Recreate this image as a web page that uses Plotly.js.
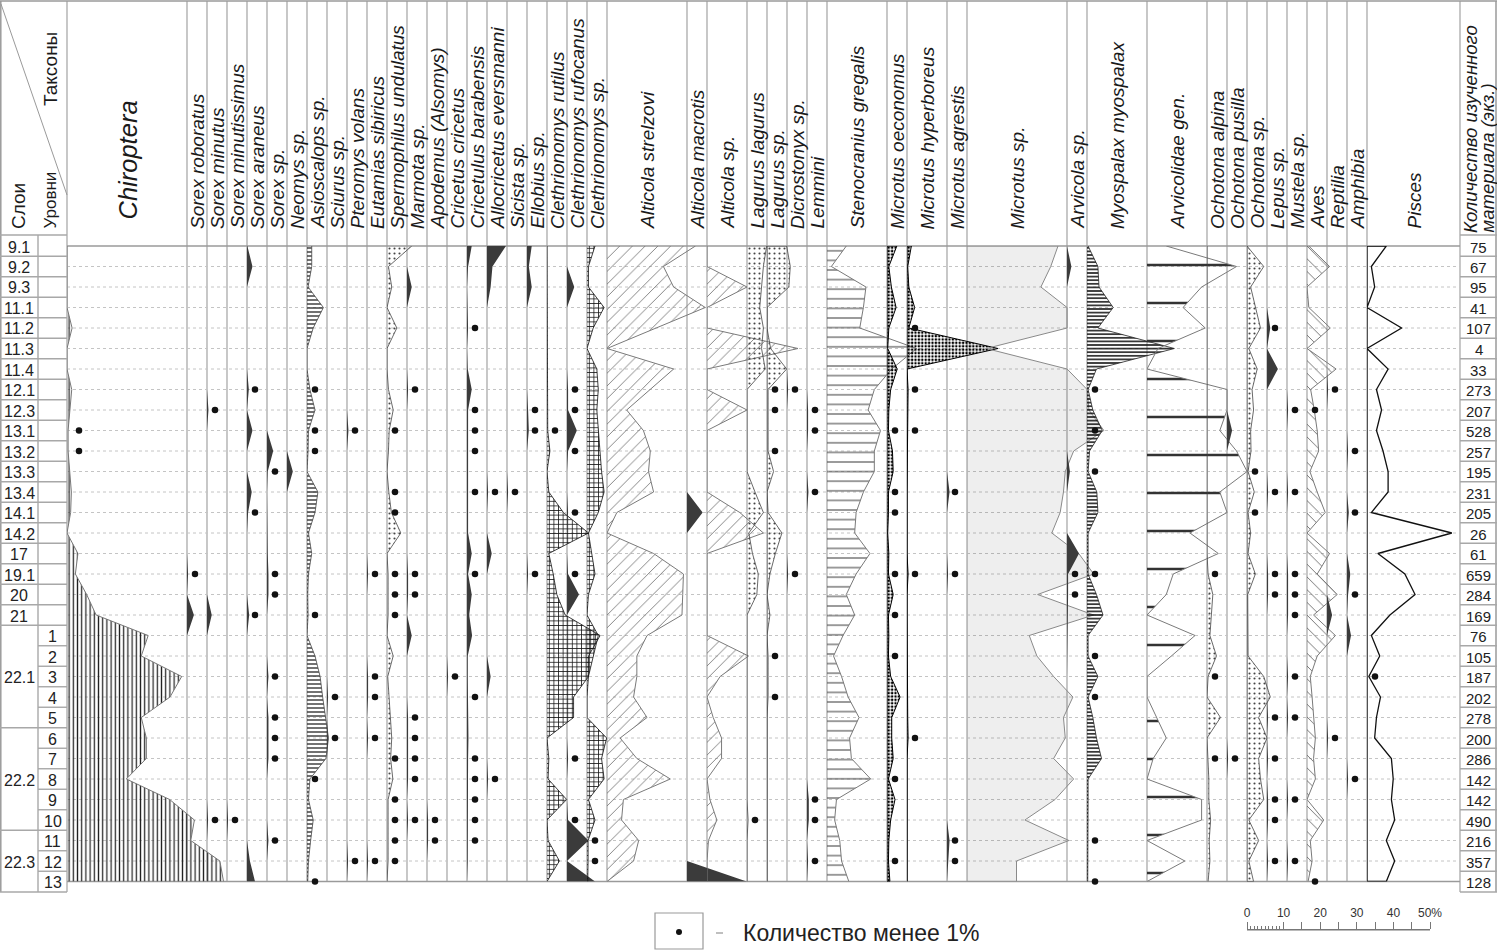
<!DOCTYPE html>
<html><head><meta charset="utf-8">
<script src="https://cdn.plot.ly/plotly-3.0.1.min.js"></script>
<style>html,body{margin:0;padding:0;background:#fff;}#chart{width:1497px;height:950px;}</style>
</head><body><div id="chart"></div>
<script>
// ---------------- DATA ----------------
const rowKeys = ['9.1','9.2','9.3','11.1','11.2','11.3','11.4','12.1','12.3','13.1','13.2','13.3','13.4','14.1','14.2','17','19.1','20','21',
                 '1','2','3','4','5','6','7','8','9','10','11','12','13'];
const layerNames = ['9.1','9.2','9.3','11.1','11.2','11.3','11.4','12.1','12.3','13.1','13.2','13.3','13.4','14.1','14.2','17','19.1','20','21','22.1','22.2','22.3'];
const layerRowCounts = [1,1,1,1,1,1,1,1,1,1,1,1,1,1,1,1,1,1,1,5,5,3];
const levelNames = ['','','','','','','','','','','','','','','','','','','','1','2','3','4','5','6','7','8','9','10','11','12','13'];
const specimenCounts = [75,67,95,41,107,4,33,273,207,528,257,195,231,205,26,61,659,284,169,76,105,187,202,278,200,286,142,142,490,216,357,128];

const chiroptera        = [0,0,0,0,1.4,0,0,1.3,0.8,0.3,0.3,0.8,1.2,1,0,3,2.3,5.4,8, 22.3,20.4,31.5,28.3,20.4,21.8,21.8,16.3,28.2,35,34,42,43];
const sorexRoboratus    = [0,0,0,0,0,0,0,0,0,0,0,0,0,0,0,0,0.3,0,1.9, 0,0,0,0,0,0,0,0,0,0,0,0,0];
const sorexMinutus      = [0,0,0,0,0,0,0,0,0.4,0,0,0,0,0,0,0,0,0,1.3, 0,0,0,0,0,0,0,0,0,0.3,0,0,0];
const sorexMinutissimus = [0,0,0,0,0,0,0,0,0,0,0,0,0,0,0,0,0,0,0, 0,0,0,0,0,0,0,0,0,0.3,0,0,0];
const sorexAraneus      = [0.1,1.5,0,0,0,0,0,0.5,0,1.5,0,0,1.3,0.3,0,0,0,0,0.6, 0,0,0,0,0,0,0,0,0,0,0,0.8,2.2];
const sorexSp           = [0,0,0,0,0,0,0,0,0,0,1.7,0.2,0,0,0,0.2,0.4,0.4,0, 0,0,0.4,0,0.4,0.4,0.4,0,0,0,0.4,0,0];
const neomys            = [0,0,0,0,0,0,0,0,0,0,0,1.6,0,0,0,0,0,0,0, 0,0,0,0,0,0,0,0,0,0,0,0,0];
const asioscalops       = [1.3,1.3,0.3,4.5,1.7,0,0,0.8,2.2,0.4,0.3,0,3,2.2,0.4,1.3,0.4,0.2,0.3, 0,2.2,3.6,4.3,5,5.9,5.2,0.8,0.4,1.7,1,0.4,0.2];
const sciurus           = [0,0,0,0,0,0,0,0,0,0,0,0,0,0,0,0,0,0,0, 0,0,0,0.3,0,0.3,0,0,0,0,0,0,0];
const pteromys          = [0,0,0,0,0,0,0,0,0,0.4,0,0,0,0,0,0,0,0,0, 0,0,0,0,0,0,0,0,0,0,0,0.3,0];
const eutamias          = [0,0,0,0,0,0,0,0,0,0,0,0,0,0,0,0,0.3,0,0, 0,0,0.3,0.3,0,0.3,0,0,0,0,0,0.3,0];
const spermophilus      = [6.8,0.4,1.3,0,2.7,0,0,0.4,1.7,0.6,0.4,0,0.5,1.2,3.8,0,0.3,0.3,0.3, 0,1.7,0.2,0.6,1,1.3,1,1.6,0.3,0.3,0.3,0.3,0];
const marmota           = [0,0,1.3,0,0,0,0,0.3,0,0,0,0,0,0,0,0,0.3,0.3,0, 1.3,0,0,0,0.3,0.3,0.3,0.3,0,0.3,0,0,0];
const apodemus          = [0,0,0,0,0,0,0,0,0,0,0,0,0,0,0,0,0,0,0, 0,0,0,0,0,0,0,0,0,0.3,0.3,0,0];
const cricetus          = [0,0,0,0,0,0,0,0,0,0,0,0,0,0,0,0,0,0,0, 0,0,0.3,0,0,0,0,0,0,0,0,0,0];
const cricetulus        = [1.3,0.3,0,0.2,0.3,0,0.2,1.3,0.3,0.3,0.3,0.3,0.3,0.3,0.3,1.3,0.3,1.3,0.6, 1.4,0.2,0.2,0.3,0.4,0.4,0.3,0.3,0.3,0.3,0.3,0.2,0];
const allocricetus      = [5.2,1.5,1,0,0,0,0,0,0,0,0,0,0.3,0,0,1.3,0,0,0, 0,0,1,0,0,0,0,0.3,0,0,0,0,0];
const sicista           = [0,0,0,0,0,0,0,0,0,0,0,0,0.3,0,0,0,0,0,0, 0,0,0,0,0,0,0,0,0,0,0,0,0];
const ellobius          = [1.3,0.5,1.3,0,0,0,0,0,0.3,0.5,0,0,0,0,0,0,0.3,0,0, 0,0,0,0,0,0,0,0,0,0,0,0,0];
const clRutilus         = [0,0,0,0,0,0,0,0,0,0.2,0.8,0,0.5,4.5,11.4,0.5,1.7,2.7,5, 14.6,11.4,11.4,7.3,7.3,0,0.5,0.3,5.4,0,0.3,3.4,0];
const clRufocanus       = [0,0,2,0,0,0,0,0.3,0.3,2.7,0.3,0,0,0.3,0,0,0.3,3.3,0, 0,0,0,0,0,0,0.3,0,0,0.3,5.9,0,7.7];
const clSp              = [2.2,0.4,0.4,4.7,1.7,0,2.7,3.1,2.7,3.1,3.6,4,4.7,3.1,0.4,1.3,2.2,0.4,0, 3.1,1.7,0.4,0,0,5.4,4,4.7,0.4,2.2,0.3,0.3,0.2];
const altStrelzovi      = [24.3,15.5,18.3,27,13.5,0,18.3,11.9,5.4,10,11.9,11.4,12.8,2.7,0,12.8,21,20.8,20.6, 11,8.2,8.2,7.3,11,3.6,8.2,17.4,4.5,4,8.7,7.3,0];
const altMacrotis       = [0,0,0,0,0,0,0,0,0,0,0,0,0,4.3,0,0,0,0,0, 0,0,0,0,0,0,0,0,0,0,0,0,16.4];
const altSp             = [0,0,11,0,0,25,0,0,11,0,0,0,0,9,15.5,0,0,0,0, 0,11.4,3.6,0,1.7,4,4,0,0.8,2.7,0.4,0,0];
const lagLagurus        = [5.4,4.5,4,3.5,4.5,4,5,0,0,0,0,0,2.2,4.5,0.5,1.5,3.1,2.7,0, 0,0,0,0,0,0,0,0,0,0.3,0,0,0];
const lagSp             = [5.4,6.4,6,0,0,1,5.4,0.3,0.3,0.5,0.3,1.8,0,0.3,4.1,2.3,0.8,0,0.8, 0,0.3,0.3,0.3,0,0,0,0,0,0,0,0,0];
const dicrostonyx       = [0,0,0,0,0,0,0,0.3,0,0,0,0,0,0,0,0,0.3,0,0, 0,0,0,0,0,0,0,0,0,0,0,0,0];
const lemmini           = [0,0,0,0,0,0,0,0,0.3,0.3,0,0,0.4,0,0,0,0,0,0, 0,0,0,0,0,0,0,0,0.5,0.5,0,0.3,0];
const stenocranius      = [5.3,1.2,10.7,10,9,24.6,17.8,13,11.3,14.7,13,13,10,8,7.6,11.8,8,5.3,7.6, 4.4,1.8,4,5.8,8.8,6.2,6.7,12,2.6,2.1,3.5,4,6];
const mOeconomus        = [2.7,0.5,1.2,2.5,0.5,0.2,2.8,1,0.5,0.4,1.5,1.7,0.4,0.4,0.2,0.5,0.4,1.7,0.4, 0.5,0.4,1,3.6,1.3,1.3,1.7,0.4,2.2,1,0.5,0.4,0.8];
const mHyperboreus      = [1.2,0.2,0.5,2.1,0.5,25,0,0.3,0.2,0.3,0,0,0,0,0,0,0.3,0,0, 0,0,0,0,0.2,0.3,0,0,0,0,0,0,0];
const mAgrestis         = [0,0,0,0,0,0,0,0,0,0,0,0,0.7,0,0,0,0.3,0,0, 0,0,0,0,0,0,0,0,0,0,0.7,0.3,0];
const microtusSp        = [25,23,20.3,27.5,27.5,5.3,27.5,33,33.5,37.6,29.3,27,26.5,25.6,23.3,30.7,34.8,19.4,34.8, 17.1,19.2,23.8,29.1,26.5,27,23.8,29.3,24.2,15.9,28,13.6,13.6];
const arvicola          = [0,1.2,0,0,0,0,0,0,0,0,0,0.8,0,0,0,3.3,0.3,0.3,0.2, 0,0,0,0,0,0,0,0,0,0,0,0,0];
const myospalax         = [0.3,3,3.3,7.2,3,24,2.6,0.3,1.6,4.2,0.7,0.3,2.7,3,0.3,0.3,0.3,2.6,4.4, 0.3,0.3,3,0.3,1.6,2.6,4,0.3,0.3,0.3,0.3,0.3,0.2];
const arvicolidae       = [5.3,24.6,15,9.9,16,3,0,22,22,20,24.6,27.5,20,22,11.8,19.6,7.2,5.3,0, 13.2,6.7,0,0,2.6,5.3,1.7,0,15,15,0,10.4,0];
const ochAlpina         = [0,0,0,0,0,0,0,0,0,0,0,0,0,0,0,0,0.3,1.6,1.2, 0.8,2.6,0.3,0,3.7,0,0.3,0.5,0.5,1,0.6,0.8,0.3];
const ochPusilla        = [0,0,0,0,0,0,0,0,0,1.4,0,0,0,0,0,0,0,0,0, 0,0,0,0,0,0,0.3,0,0,0,0,0,0];
const ochSp             = [0,4.6,1,2.3,3.7,0.5,2.8,1.4,1.8,1,1.1,0.3,2,0.3,1,0.3,2.3,0.2,0.2, 0.2,0.3,4.6,6.4,3.2,5.5,3.2,3.7,4.6,0.5,3.2,0.5,1.8];
const lepus             = [0,0,0,0,0.9,0,3,0,0,0,0,0,0.3,0,0,0,0.3,0.3,0, 0,0,0,0,0.3,0,0.3,0,0.3,0.3,0,0.3,0];
const mustela           = [0,0,0,0,0,0,0,0,0.3,0,0,0,0.3,0,0,0,0.3,0.3,0.3, 0,0,0.3,0,0.3,0,0,0,0.3,0,0,0.3,0];
const aves              = [0.5,6.2,0,0.5,6.4,0,8,1,2,2.8,3.2,0.8,2.8,5,0,6.2,2.8,8.3,1.8, 7.8,2.8,0.9,1.4,1.8,2.3,1.8,2.3,0,4.6,0.9,1.4,0.3];
const reptilia          = [0,0,0,0,0,0,0,0.3,0,0,0,0,0,0,0,0,0,0,1.4, 0,0,0,0,0,0.3,0,0,0,0,0,0,0];
const amphibia          = [0,0,0,0,0,0,0,0,0,0,0.3,0,0,0.5,0,0,0.9,0.3,0, 1.1,0,0,0,0,0,0,0.3,0,0,0,0,0];
const pisces            = [5.3,1.2,2.1,0,9.5,0,5.8,2.6,4,2.6,4.4,5.8,5.8,1.2,23.3,3,10.4,13.2,6.3, 1.2,3.5,0.5,3.7,2.6,2.1,6.7,7.2,6.7,7.6,5.3,7.6,5.3];

// rows where the amount is less than 1% (drawn as dots)
const lt1Chiroptera   = ['13.1','13.2'];
const lt1SRoboratus   = ['19.1'];
const lt1SMinutus     = ['12.3','10'];
const lt1SMinutissimus= ['10'];
const lt1SAraneus     = ['12.1','14.1','21'];
const lt1SorexSp      = ['13.3','19.1','20','3','5','6','7','11'];
const lt1Asioscalops  = ['12.1','13.1','13.2','21','8','13'];
const lt1Sciurus      = ['4','6'];
const lt1Pteromys     = ['13.1','12'];
const lt1Eutamias     = ['19.1','3','4','6','12'];
const lt1Spermophilus = ['13.1','13.4','14.1','19.1','20','21','7','9','10','11','12'];
const lt1Marmota      = ['12.1','19.1','20','5','6','7','8','10'];
const lt1Apodemus     = ['10','11'];
const lt1Cricetus     = ['3'];
const lt1Cricetulus   = ['11.2','12.3','13.1','13.2','13.4','19.1','4','7','8','9','10','11'];
const lt1Allocricetus = ['13.4','8'];
const lt1Sicista      = ['13.4'];
const lt1Ellobius     = ['12.3','13.1','19.1'];
const lt1ClRutilus    = ['13.1'];
const lt1ClRufocanus  = ['12.1','12.3','13.2','14.1','19.1','7','10'];
const lt1ClSp         = ['11','12'];
const lt1LagLagurus   = ['10'];
const lt1LagSp        = ['12.1','12.3','13.2','2','4'];
const lt1Dicrostonyx  = ['12.1','19.1'];
const lt1Lemmini      = ['12.3','13.1','13.4','9','10','12'];
const lt1MOeconomus   = ['13.1','13.4','14.1','19.1','21','2','8','12'];
const lt1MHyperboreus = ['11.2','12.1','13.1','19.1','6'];
const lt1MAgrestis    = ['13.4','19.1','11','12'];
const lt1Arvicola     = ['19.1','20'];
const lt1Myospalax    = ['12.1','13.1','13.3','19.1','2','4','11','13'];
const lt1OchAlpina    = ['19.1','3','7'];
const lt1OchPusilla   = ['7'];
const lt1OchSp        = ['13.3','14.1'];
const lt1Lepus        = ['11.2','13.4','19.1','20','5','7','9','10','12'];
const lt1Mustela      = ['12.3','13.4','19.1','20','21','3','5','9','12'];
const lt1Aves         = ['12.3','13'];
const lt1Reptilia     = ['12.1','6'];
const lt1Amphibia     = ['13.2','14.1','20','8'];
const lt1Pisces       = ['3'];

const scaleTicks = [0,10,20,30,40,50];

// ---------------- LAYOUT GEOMETRY & STYLES ----------------
const W = 1497, H = 950;
const PX_PER_PCT = 3.64;
const ROW_TOP = 246, ROW_STEP = 20.5;
const DATA_LEFT = 67, DATA_RIGHT = 1460;
const HEAD_BOTTOM = 235, TABLE_BOTTOM = 892;
const xp = px => px / W;
const yp = px => 1 - px / H;
const rowY = i => ROW_TOP + ROW_STEP * i;
const NARROW = "'Liberation Sans Narrow','Arial Narrow','Liberation Sans',Arial,sans-serif";
const REG = "'Liberation Sans',Arial,sans-serif";

const STYLES = {
  dark:        {fill:'#3b3b3b', line:'#2e2e2e', lw:0},
  vlines:      {pattern:{shape:'|', size:4.2, solidity:0.3, fgcolor:'#222'}, line:'#777', lw:1},
  hlines:      {pattern:{shape:'-', size:4, solidity:0.32, fgcolor:'#222'}, line:'#444', lw:0.8},
  dotsLight:   {pattern:{shape:'.', size:5, solidity:0.14, fgcolor:'#444'}, line:'#444', lw:0.8},
  grid:        {pattern:{shape:'+', size:4.6, solidity:0.3, fgcolor:'#111'}, line:'#111', lw:0.8},
  diag:        {pattern:{shape:'/', size:9, solidity:0.1, fgcolor:'#7a7a7a'}, line:'#7a7a7a', lw:1},
  dotsDense:   {pattern:{shape:'.', size:3.4, solidity:0.42, fgcolor:'#000'}, line:'#000', lw:1},
  hlinesGray:  {pattern:{shape:'-', size:9.6, solidity:0.12, fgcolor:'#555'}, line:'#7a7a7a', lw:1},
  gray:        {fill:'rgba(0,0,0,0.065)', line:'#8a8a8a', lw:1},
  hlinesDark:  {pattern:{shape:'-', size:3.6, solidity:0.42, fgcolor:'#111'}, line:'#222', lw:0.8},
  hlinesSparse:{pattern:{shape:'-', size:38, solidity:0.06, fgcolor:'#333'}, line:'#7a7a7a', lw:1},
  backdiag:    {pattern:{shape:'\\', size:9, solidity:0.1, fgcolor:'#6a6a6a'}, line:'#7a7a7a', lw:1},
  outline:     {fill:'rgba(0,0,0,0)', line:'#111', lw:1.3}
};

const columns = [
  {name:'Chiroptera', left:67, v:chiroptera, lt:lt1Chiroptera, style:'vlines', big:true, dotX:3.3},
  {name:'Sorex roboratus', left:187, v:sorexRoboratus, lt:lt1SRoboratus, style:'dark'},
  {name:'Sorex minutus', left:207, v:sorexMinutus, lt:lt1SMinutus, style:'dark'},
  {name:'Sorex minutissimus', left:227, v:sorexMinutissimus, lt:lt1SMinutissimus, style:'dark'},
  {name:'Sorex araneus', left:247, v:sorexAraneus, lt:lt1SAraneus, style:'dark'},
  {name:'Sorex sp.', left:267, v:sorexSp, lt:lt1SorexSp, style:'dark'},
  {name:'Neomys sp.', left:287, v:neomys, lt:[], style:'dark'},
  {name:'Asioscalops sp.', left:307, v:asioscalops, lt:lt1Asioscalops, style:'hlines'},
  {name:'Sciurus sp.', left:327, v:sciurus, lt:lt1Sciurus, style:'dark'},
  {name:'Pteromys volans', left:347, v:pteromys, lt:lt1Pteromys, style:'dark'},
  {name:'Eutamias sibiricus', left:367, v:eutamias, lt:lt1Eutamias, style:'dark'},
  {name:'Spermophilus undulatus', left:387, v:spermophilus, lt:lt1Spermophilus, style:'dotsLight'},
  {name:'Marmota sp.', left:407, v:marmota, lt:lt1Marmota, style:'dark'},
  {name:'Apodemus (Alsomys)', left:427, v:apodemus, lt:lt1Apodemus, style:'dark'},
  {name:'Cricetus cricetus', left:447, v:cricetus, lt:lt1Cricetus, style:'dark'},
  {name:'Cricetulus barabensis', left:467, v:cricetulus, lt:lt1Cricetulus, style:'dark'},
  {name:'Allocricetus eversmanni', left:487, v:allocricetus, lt:lt1Allocricetus, style:'dark'},
  {name:'Sicista sp.', left:507, v:sicista, lt:lt1Sicista, style:'dark'},
  {name:'Ellobius sp.', left:527, v:ellobius, lt:lt1Ellobius, style:'dark'},
  {name:'Clethrionomys rutilus', left:547, v:clRutilus, lt:lt1ClRutilus, style:'grid'},
  {name:'Clethrionomys rufocanus', left:567, v:clRufocanus, lt:lt1ClRufocanus, style:'dark'},
  {name:'Clethrionomys sp.', left:587, v:clSp, lt:lt1ClSp, style:'grid'},
  {name:'Alticola strelzovi', left:607, v:altStrelzovi, lt:[], style:'diag'},
  {name:'Alticola macrotis', left:687, v:altMacrotis, lt:[], style:'dark'},
  {name:'Alticola sp.', left:707, v:altSp, lt:[], style:'diag'},
  {name:'Lagurus lagurus', left:747, v:lagLagurus, lt:lt1LagLagurus, style:'dotsLight'},
  {name:'Lagurus sp.', left:767, v:lagSp, lt:lt1LagSp, style:'dotsLight', closed:true},
  {name:'Dicrostonyx sp.', left:787, v:dicrostonyx, lt:lt1Dicrostonyx, style:'dark'},
  {name:'Lemmini', left:807, v:lemmini, lt:lt1Lemmini, style:'dark'},
  {name:'Stenocranius gregalis', left:827, v:stenocranius, lt:[], style:'hlinesGray'},
  {name:'Microtus oeconomus', left:887, v:mOeconomus, lt:lt1MOeconomus, style:'dotsDense', closed:true},
  {name:'Microtus hyperboreus', left:907, v:mHyperboreus, lt:lt1MHyperboreus, style:'dotsDense', closed:true},
  {name:'Microtus agrestis', left:947, v:mAgrestis, lt:lt1MAgrestis, style:'dark'},
  {name:'Microtus sp.', left:967, v:microtusSp, lt:[], style:'gray'},
  {name:'Arvicola sp.', left:1067, v:arvicola, lt:lt1Arvicola, style:'dark'},
  {name:'Myospalax myospalax', left:1087, v:myospalax, lt:lt1Myospalax, style:'hlinesDark'},
  {name:'Arvicolidae gen.', left:1147, v:arvicolidae, lt:[], style:'hlinesSparse'},
  {name:'Ochotona alpina', left:1207, v:ochAlpina, lt:lt1OchAlpina, style:'dotsLight'},
  {name:'Ochotona pusilla', left:1227, v:ochPusilla, lt:lt1OchPusilla, style:'dark'},
  {name:'Ochotona sp.', left:1247, v:ochSp, lt:lt1OchSp, style:'dotsLight', closed:true},
  {name:'Lepus sp.', left:1267, v:lepus, lt:lt1Lepus, style:'dark'},
  {name:'Mustela sp.', left:1287, v:mustela, lt:lt1Mustela, style:'dark'},
  {name:'Aves', left:1307, v:aves, lt:lt1Aves, style:'backdiag'},
  {name:'Reptilia', left:1327, v:reptilia, lt:lt1Reptilia, style:'dark'},
  {name:'Amphibia', left:1347, v:amphibia, lt:lt1Amphibia, style:'dark'},
  {name:'Pisces', left:1367, v:pisces, lt:lt1Pisces, style:'outline', closed:true}
];

const nRows = rowKeys.length;
const traces = [];
const shapes = [];
const annotations = [];
const layout = {
  width: W, height: H, autosize: false,
  margin: {l:0, r:0, t:0, b:0, pad:0},
  paper_bgcolor: '#ffffff', plot_bgcolor: 'rgba(0,0,0,0)',
  showlegend: false, hovermode: false,
  yaxis: {domain:[yp(rowY(nRows-1)), yp(ROW_TOP)], range:[nRows-1, 0], visible:false, fixedrange:true, anchor:'x'}
};

columns.forEach((c, k) => {
  const id = k === 0 ? '' : String(k + 1);
  const right = k < columns.length - 1 ? columns[k+1].left : DATA_RIGHT;
  c.width = right - c.left;
  layout['xaxis' + id] = {domain:[xp(c.left), xp(DATA_RIGHT)], range:[0, (DATA_RIGHT - c.left) / PX_PER_PCT],
                          visible:false, anchor:'y', fixedrange:true};
  const st = STYLES[c.style];
  const rows = c.v.map((_, i) => i);
  const t = {type:'scatter', mode:'lines', xaxis:'x' + id, yaxis:'y', hoverinfo:'skip', showlegend:false,
             line:{color:st.line, width:st.lw, shape:'linear'}};
  if (c.closed) { t.x = [0, ...c.v, 0, 0]; t.y = [0, ...rows, nRows - 1, 0]; t.fill = 'toself'; }
  else { t.x = c.v; t.y = rows; t.fill = 'tozerox'; }
  if (st.pattern) { t.fillpattern = Object.assign({bgcolor:'rgba(0,0,0,0)', fillmode:'replace'}, st.pattern); t.fillcolor = 'rgba(0,0,0,0)'; }
  else t.fillcolor = st.fill;
  traces.push(t);
  if (c.lt.length) {
    traces.push({type:'scatter', mode:'markers', xaxis:'x' + id, yaxis:'y', hoverinfo:'skip', showlegend:false, cliponaxis:false,
      x: c.lt.map(() => c.dotX || 2.2), y: c.lt.map(r => rowKeys.indexOf(r)),
      marker:{size:6.5, color:'#111', line:{width:0}}});
  }
  annotations.push({xref:'paper', yref:'paper', x:xp(c.left + c.width/2), y:yp(c.big ? 222 : 231),
    xanchor:'center', yanchor:'bottom', textangle:-90, showarrow:false,
    text:'<i>' + c.name + '</i>', font:{family:REG, size:c.big ? 25.5 : 19, color:'#1a1a1a'}});
});

// vertical column lines
const GRID = '#bababa';
columns.map(c => c.left).concat([DATA_RIGHT]).forEach((x, i, arr) => {
  const full = (i === 0 || i === arr.length - 1);
  shapes.push({type:'line', xref:'paper', yref:'paper', x0:xp(x), x1:xp(x), y0:yp(1), y1:yp(full ? TABLE_BOTTOM : rowY(nRows-1)),
    line:{color:GRID, width:1.6}, layer:'below'});
});
// horizontal row lines
for (let i = 0; i < nRows; i++) {
  const edge = (i === 0 || i === nRows - 1);
  shapes.push({type:'line', xref:'paper', yref:'paper', x0:xp(DATA_LEFT), x1:xp(DATA_RIGHT), y0:yp(rowY(i)), y1:yp(rowY(i)),
    line:edge ? {color:'#9a9a9a', width:1.6} : {color:'#c4c4c4', width:1, dash:'dot'}, layer:'below'});
}
// frame
shapes.push({type:'line', xref:'paper', yref:'paper', x0:0, x1:1, y0:yp(1), y1:yp(1), line:{color:'#9a9a9a', width:1.5}});
shapes.push({type:'line', xref:'paper', yref:'paper', x0:xp(0.8), x1:xp(0.8), y0:yp(1), y1:yp(TABLE_BOTTOM), line:{color:'#9a9a9a', width:1.5}});
shapes.push({type:'line', xref:'paper', yref:'paper', x0:xp(1496), x1:xp(1496), y0:yp(1), y1:yp(TABLE_BOTTOM), line:{color:'#9a9a9a', width:1.5}});
shapes.push({type:'line', xref:'paper', yref:'paper', x0:xp(1), x1:xp(67), y0:yp(4), y1:yp(195), line:{color:'#9a9a9a', width:1}});

// left table (layers / levels) and right table (counts)
const hline = (x0, x1, y) => shapes.push({type:'line', xref:'paper', yref:'paper', x0:xp(x0), x1:xp(x1), y0:yp(y), y1:yp(y), line:{color:'#a8a8a8', width:1.4}});
hline(0, 67, HEAD_BOTTOM); hline(0, 67, TABLE_BOTTOM);
hline(1460, 1497, HEAD_BOTTOM); hline(1460, 1497, TABLE_BOTTOM);
shapes.push({type:'line', xref:'paper', yref:'paper', x0:xp(38), x1:xp(38), y0:yp(HEAD_BOTTOM), y1:yp(TABLE_BOTTOM), line:{color:'#a8a8a8', width:1.4}});
const layerEnds = new Set();
let start = 0;
layerNames.forEach((name, j) => {
  const end = start + layerRowCounts[j] - 1;
  const top = start === 0 ? HEAD_BOTTOM : rowY(start - 0.5);
  const bot = end === nRows - 1 ? TABLE_BOTTOM : rowY(end + 0.5);
  layerEnds.add(end);
  const cy = layerRowCounts[j] > 1 ? (top + bot) / 2 : rowY(start);
  annotations.push({xref:'paper', yref:'paper', x:xp(19), y:yp(cy + 1), xanchor:'center', yanchor:'middle', showarrow:false,
    text:name, font:{family:NARROW, size:16, color:'#222'}});
  start = end + 1;
});
for (let i = 0; i < nRows - 1; i++) {
  const yb = rowY(i + 0.5);
  hline(layerEnds.has(i) ? 0 : 38, 67, yb);
  hline(1460, 1497, yb);
}
levelNames.forEach((lv, i) => {
  if (!lv) return;
  annotations.push({xref:'paper', yref:'paper', x:xp(52.5), y:yp(rowY(i) + 1), xanchor:'center', yanchor:'middle', showarrow:false,
    text:lv, font:{family:NARROW, size:16, color:'#222'}});
});
specimenCounts.forEach((n, i) => {
  annotations.push({xref:'paper', yref:'paper', x:xp(1478.5), y:yp(rowY(i) + 1), xanchor:'center', yanchor:'middle', showarrow:false,
    text:String(n), font:{family:NARROW, size:15, color:'#222'}});
});
// table headers
annotations.push({xref:'paper', yref:'paper', x:xp(18), y:yp(231), xanchor:'center', yanchor:'bottom', textangle:-90, showarrow:false,
  text:'Слои', font:{family:REG, size:19, color:'#1a1a1a'}});
annotations.push({xref:'paper', yref:'paper', x:xp(50), y:yp(231), xanchor:'center', yanchor:'bottom', textangle:-90, showarrow:false,
  text:'Уровни', font:{family:REG, size:17, color:'#1a1a1a'}});
annotations.push({xref:'paper', yref:'paper', x:xp(50), y:yp(108), xanchor:'center', yanchor:'bottom', textangle:-90, showarrow:false,
  text:'Таксоны', font:{family:REG, size:19, color:'#1a1a1a'}});
const countHeader = ['Количество изученного', 'материала (экз.)'];
countHeader.forEach((line, j) => {
  annotations.push({xref:'paper', yref:'paper', x:xp(1470 + 17 * j), y:yp(234), xanchor:'center', yanchor:'bottom', textangle:-90, showarrow:false,
    borderpad:0, text:'<i>' + line + '</i>', font:{family:REG, size:18.5, color:'#1a1a1a'}});
});

// legend of the dot symbol
shapes.push({type:'rect', xref:'paper', yref:'paper', x0:xp(655), x1:xp(703), y0:yp(913), y1:yp(949), line:{color:'#9a9a9a', width:1.2}, fillcolor:'rgba(0,0,0,0)'});
shapes.push({type:'circle', xref:'paper', yref:'paper', x0:xp(676), x1:xp(682), y0:yp(929), y1:yp(935), line:{width:0}, fillcolor:'#111'});
shapes.push({type:'line', xref:'paper', yref:'paper', x0:xp(716), x1:xp(723), y0:yp(933), y1:yp(933), line:{color:'#aaa', width:1.5}});
annotations.push({xref:'paper', yref:'paper', x:xp(741), y:yp(933), xanchor:'left', yanchor:'middle', showarrow:false,
  text:'Количество менее 1%', font:{family:NARROW, size:23, color:'#222'}});

// percentage scale bar (its own axis)
const scaleId = columns.length + 1;
layout['xaxis' + scaleId] = {domain:[xp(1247), xp(1430)], range:[0, 50], anchor:'y2', side:'top', fixedrange:true,
  showline:true, linecolor:'#777', linewidth:1, showgrid:false, zeroline:false,
  tickmode:'array', tickvals:[0,5,10,15,20,25,30,35,40,45,50],
  ticktext:scaleTicks.flatMap((t, i) => i < scaleTicks.length - 1 ? [String(t), ''] : [t + '%']),
  ticks:'outside', ticklen:7, tickwidth:1, tickcolor:'#777',
  tickfont:{family:NARROW, size:12, color:'#333'},
  minor:{tickvals:[1,2,3,4,5,6,7,8,9], ticks:'outside', ticklen:3, tickcolor:'#777', showgrid:false}};
layout.yaxis2 = {domain:[yp(940), yp(930)], range:[0, 1], visible:false, fixedrange:true, anchor:'x' + scaleId};
traces.push({type:'scatter', mode:'lines', xaxis:'x' + scaleId, yaxis:'y2', hoverinfo:'skip', showlegend:false,
  x:[scaleTicks[0], scaleTicks[scaleTicks.length - 1]], y:[1, 1], line:{color:'#777', width:1}});

layout.shapes = shapes;
layout.annotations = annotations;

Plotly.newPlot('chart', traces, layout, {staticPlot:true, displayModeBar:false});
</script>
</body></html>
